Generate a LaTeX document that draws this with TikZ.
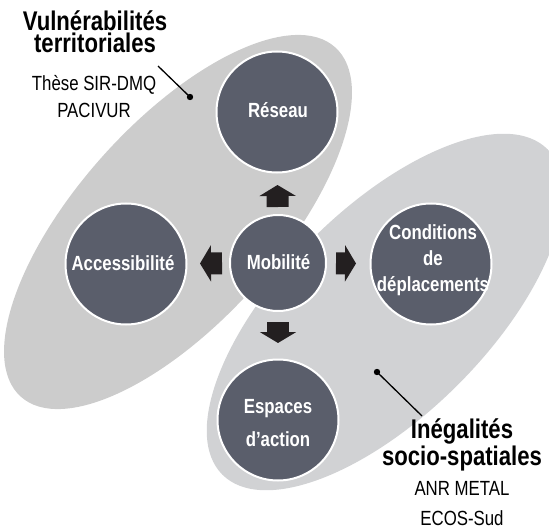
\documentclass[tikz,border=0pt]{standalone}
\usepackage{fontspec}
\setmainfont{Liberation Sans}[FakeStretch=0.82]
\usetikzlibrary{arrows.meta}
\definecolor{circfill}{RGB}{90,94,107}
\definecolor{ellA}{RGB}{204,204,204}
\definecolor{ellB}{RGB}{209,210,212}
\definecolor{arrowblk}{RGB}{35,31,32}
\begin{document}
\begin{tikzpicture}[x=1pt,y=-1pt,
  bigc/.style={circle, fill=circfill, draw=white, line width=2pt, minimum size=121pt, inner sep=0pt},
  smallc/.style={bigc, minimum size=96pt},
  ctext/.style={text=white, font=\bfseries\fontsize{20.5}{26}\selectfont, align=center, anchor=base, inner sep=0pt},
  title/.style={font=\bfseries\fontsize{27}{22.5}\selectfont, align=center, anchor=base, inner sep=0pt},
  sub/.style={font=\fontsize{20.5}{27}\selectfont, align=center, anchor=base, inner sep=0pt},
  blockarrow/.style={draw=arrowblk, line width=22pt, -{Triangle[length=11pt,width=36pt]}},
  leader/.style={line width=1.3pt, black}
]
\useasboundingbox (0,0) rectangle (549,532);
% background ellipses
\fill[ellA, rotate around={48:(178,222)}] (178,222) ellipse [x radius=235pt, y radius=100pt];
\fill[ellB, rotate around={45:(385,312)}] (385,312) ellipse [x radius=230pt, y radius=103pt];
% leader lines
\coordinate (dA) at (190,97);
\coordinate (lA) at (158,66);
\draw[leader] (lA) -- (dA);
\fill (dA) circle (3.2pt);
\coordinate (dB) at (377,372);
\coordinate (lB) at (422,416);
\draw[leader] (lB) -- (dB);
\fill (dB) circle (3.2pt);
% circles
\node[bigc] (res) at (277,112) {};
\node[smallc] (mob) at (278,263) {};
\node[bigc] (acc) at (126,264) {};
\node[bigc] (cond) at (431,264) {};
\node[bigc] (esp) at (278,420) {};
% arrows
\draw[blockarrow, shorten <=7pt, shorten >=11.5pt] (mob) -- (res);
\draw[blockarrow, shorten <=7pt, shorten >=12.5pt] (mob) -- (acc);
\draw[blockarrow, shorten <=9pt, shorten >=13.5pt] (mob) -- (cond);
\draw[blockarrow, shorten <=10pt, shorten >=15.5pt] (mob) -- (esp);
% circle texts (anchor = baseline of last line)
\node[ctext] (resT) at (278,118) {Réseau};
\node[ctext] (mobT) at (278.5,269) {Mobilité};
\node[ctext] (accT) at (123,270) {Accessibilité};
\node[ctext] (condT) at (433,291) {Conditions\\de\\déplacements};
\node[ctext, font=\bfseries\fontsize{20.5}{33}\selectfont] (espT) at (278,446) {Espaces\\d’action};
% labels
\node[title] (tA) at (95,53) {Vulnérabilités\\territoriales};
\node[sub] (sA) at (94,118) {Thèse SIR-DMQ\\PACIVUR};
\node[title, font=\bfseries\fontsize{27}{25}\selectfont] (tB) at (462,465) {Inégalités\\socio-spatiales};
\node[sub, font=\fontsize{20.5}{30}\selectfont] (sB) at (462,525) {ANR METAL\\ECOS-Sud};
\end{tikzpicture}
\end{document}
